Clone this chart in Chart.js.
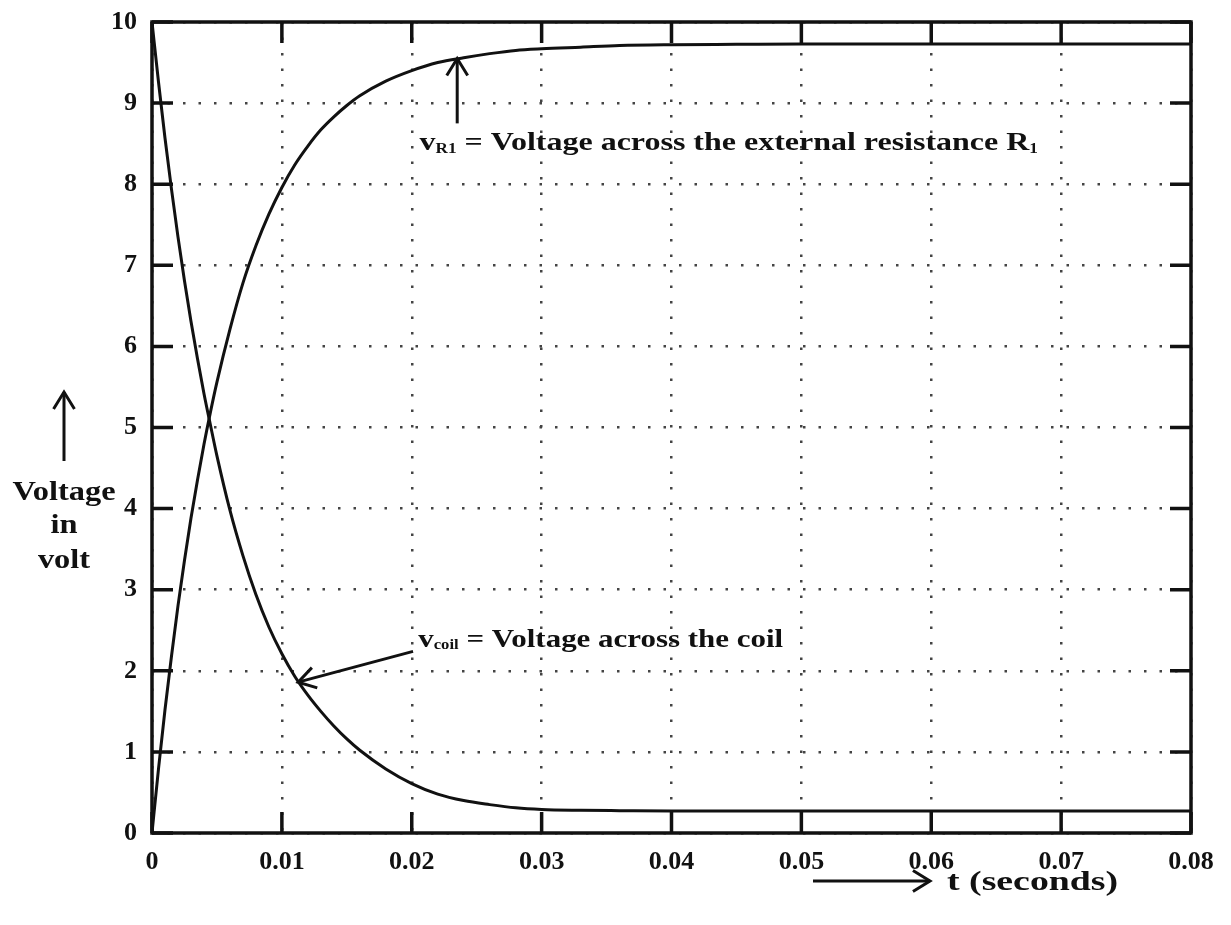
<!DOCTYPE html>
<html>
<head>
<meta charset="utf-8">
<script src="https://cdn.jsdelivr.net/npm/chart.js@4/dist/chart.umd.min.js"></script>
<style>
  html, body { margin: 0; padding: 0; background: #ffffff; }
  #wrap { width: 1231px; height: 925px; }
</style>
</head>
<body>
<div id="wrap"><canvas id="c" width="1231" height="925"></canvas></div>
<script>
// ---- data ----
const tValues = [0, 0.0005, 0.001, 0.0015, 0.002, 0.0025, 0.003, 0.0035, 0.004, 0.0045, 0.005,
  0.006, 0.007, 0.008, 0.009, 0.010, 0.011, 0.012, 0.013, 0.014, 0.015, 0.016, 0.018, 0.020,
  0.022, 0.024, 0.026, 0.028, 0.030, 0.033, 0.036, 0.040, 0.045, 0.050, 0.060, 0.070, 0.080];
const vR1 = [0, 0.79, 1.52, 2.18, 2.80, 3.36, 3.88, 4.35, 4.79, 5.19, 5.56,
  6.21, 6.78, 7.24, 7.63, 7.96, 8.24, 8.47, 8.67, 8.83, 8.97, 9.09, 9.27, 9.40,
  9.50, 9.56, 9.61, 9.65, 9.67, 9.69, 9.71, 9.72, 9.725, 9.73, 9.73, 9.73, 9.73];
const vCoil = [10, 9.26, 8.57, 7.94, 7.35, 6.81, 6.31, 5.85, 5.42, 5.03, 4.65,
  3.98, 3.42, 2.94, 2.54, 2.21, 1.93, 1.70, 1.50, 1.32, 1.16, 1.02, 0.79, 0.61,
  0.48, 0.40, 0.35, 0.31, 0.29, 0.28, 0.275, 0.27, 0.27, 0.27, 0.27, 0.27, 0.27];
const xTickValues = [0, 0.01, 0.02, 0.03, 0.04, 0.05, 0.06, 0.07, 0.08];
const xTickLabels = ['0', '0.01', '0.02', '0.03', '0.04', '0.05', '0.06', '0.07', '0.08'];
const yTickValues = [0, 1, 2, 3, 4, 5, 6, 7, 8, 9, 10];
const yTickLabels = ['0', '1', '2', '3', '4', '5', '6', '7', '8', '9', '10'];

// annotation anchors in data units
const vR1Note = { arrowX: 0.0235, arrowFrom: 8.75, arrowTo: 9.55, textX: 0.0206, textY: 8.5 };
const vCoilNote = { fromX: 0.0201, fromY: 2.24, toX: 0.01125, toY: 1.86, textX: 0.0205, textY: 2.38 };

const SERIF = '"Liberation Serif", "DejaVu Serif", serif';
const TICK_FONT = { family: SERIF, size: 26, weight: 'bold' };

function toPts(xs, ys) { return xs.map((x, i) => ({ x: x, y: ys[i] })); }

function arrowHead(ctx, x1, y1, x2, y2, len, spread) {
  const a = Math.atan2(y2 - y1, x2 - x1);
  ctx.beginPath();
  ctx.moveTo(x2 - len * Math.cos(a - spread), y2 - len * Math.sin(a - spread));
  ctx.lineTo(x2, y2);
  ctx.lineTo(x2 - len * Math.cos(a + spread), y2 - len * Math.sin(a + spread));
  ctx.stroke();
}
function arrow(ctx, x1, y1, x2, y2) {
  ctx.beginPath(); ctx.moveTo(x1, y1); ctx.lineTo(x2, y2); ctx.stroke();
  arrowHead(ctx, x1, y1, x2, y2, 20, 0.55);
}
// text made of segments [text, isSub], horizontally stretched by sx
function richText(ctx, x, y, parts, size, sx) {
  ctx.save();
  ctx.translate(x, y);
  ctx.scale(sx, 1);
  let cx = 0;
  parts.forEach(p => {
    const s = p[1] ? Math.round(size * 0.55) : size;
    ctx.font = 'bold ' + s + 'px ' + SERIF;
    ctx.fillText(p[0], cx, p[1] ? size * 0.22 : 0);
    cx += ctx.measureText(p[0]).width;
  });
  ctx.restore();
}
function stretchedText(ctx, text, x, y, size, sx, align) {
  ctx.save();
  ctx.translate(x, y);
  ctx.scale(sx, 1);
  ctx.font = 'bold ' + size + 'px ' + SERIF;
  ctx.textAlign = align;
  ctx.fillText(text, 0, 0);
  ctx.restore();
}

const framePlugin = {
  id: 'frame',
  afterDatasetsDraw(chart) {
    const ctx = chart.ctx, a = chart.chartArea;
    const xs = chart.scales.x, ys = chart.scales.y;
    ctx.save();
    ctx.strokeStyle = '#111';
    ctx.lineWidth = 3.5;
    ctx.lineCap = 'butt';
    // inward tick marks
    xTickValues.forEach(v => {
      const px = xs.getPixelForValue(v);
      ctx.beginPath();
      ctx.moveTo(px, a.bottom); ctx.lineTo(px, a.bottom - 21);
      ctx.moveTo(px, a.top); ctx.lineTo(px, a.top + 21);
      ctx.stroke();
    });
    yTickValues.forEach(v => {
      const py = ys.getPixelForValue(v);
      ctx.beginPath();
      ctx.moveTo(a.left, py); ctx.lineTo(a.left + 21, py);
      ctx.moveTo(a.right, py); ctx.lineTo(a.right - 21, py);
      ctx.stroke();
    });
    ctx.strokeRect(a.left, a.top, a.right - a.left, a.bottom - a.top);

    // curve annotations
    ctx.fillStyle = '#111';
    ctx.lineWidth = 3;
    ctx.lineJoin = 'miter';
    ctx.textBaseline = 'middle';
    ctx.textAlign = 'left';
    const ax = xs.getPixelForValue(vR1Note.arrowX);
    arrow(ctx, ax, ys.getPixelForValue(vR1Note.arrowFrom), ax, ys.getPixelForValue(vR1Note.arrowTo));
    richText(ctx, xs.getPixelForValue(vR1Note.textX), ys.getPixelForValue(vR1Note.textY),
      [['v', false], ['R1', true], [' = Voltage across the external resistance R', false], ['1', true]], 26, 1.23);
    arrow(ctx, xs.getPixelForValue(vCoilNote.fromX), ys.getPixelForValue(vCoilNote.fromY),
      xs.getPixelForValue(vCoilNote.toX), ys.getPixelForValue(vCoilNote.toY));
    richText(ctx, xs.getPixelForValue(vCoilNote.textX), ys.getPixelForValue(vCoilNote.textY),
      [['v', false], ['coil', true], [' = Voltage across the coil', false]], 26, 1.19);

    // axis titles
    const tx = 64;
    arrow(ctx, tx, 461, tx, 392);
    stretchedText(ctx, 'Voltage', tx, 493, 27, 1.2, 'center');
    stretchedText(ctx, 'in', tx, 526, 27, 1.2, 'center');
    stretchedText(ctx, 'volt', tx, 561, 27, 1.2, 'center');

    const ay = 881;
    arrow(ctx, 813, ay, 930, ay);
    stretchedText(ctx, 't (seconds)', 947, ay + 2, 27, 1.4, 'left');
    ctx.restore();
  }
};

new Chart(document.getElementById('c'), {
  type: 'line',
  data: {
    datasets: [
      { label: 'vR1', data: toPts(tValues, vR1), borderColor: '#111', borderWidth: 3,
        pointRadius: 0, cubicInterpolationMode: 'monotone', fill: false },
      { label: 'vcoil', data: toPts(tValues, vCoil), borderColor: '#111', borderWidth: 3,
        pointRadius: 0, cubicInterpolationMode: 'monotone', fill: false }
    ]
  },
  options: {
    responsive: false,
    animation: false,
    devicePixelRatio: 1,
    layout: { padding: { left: 0, top: 22, right: 40, bottom: 0 } },
    plugins: { legend: { display: false }, tooltip: { enabled: false } },
    scales: {
      x: {
        type: 'linear', min: 0, max: 0.08,
        afterBuildTicks(s) { s.ticks = xTickValues.map(v => ({ value: v })); },
        afterFit(s) { s.height = 92; s.paddingLeft = 0; s.paddingRight = 0; },
        ticks: {
          font: TICK_FONT, color: '#111', padding: 14, maxRotation: 0, autoSkip: false,
          callback: (v, i) => xTickLabels[i]
        },
        grid: { color: '#444', lineWidth: 2.5, drawTicks: false, tickLength: 0 },
        border: { display: false, dash: [2.5, 13] }
      },
      y: {
        type: 'linear', min: 0, max: 10,
        afterBuildTicks(s) { s.ticks = yTickValues.map(v => ({ value: v })); },
        afterFit(s) { s.width = 152; s.paddingTop = 0; s.paddingBottom = 0; },
        ticks: {
          font: TICK_FONT, color: '#111', padding: 15, autoSkip: false,
          callback: (v, i) => yTickLabels[i]
        },
        grid: { color: '#444', lineWidth: 2.5, drawTicks: false, tickLength: 0 },
        border: { display: false, dash: [2.5, 13] }
      }
    }
  },
  plugins: [framePlugin]
});
</script>
</body>
</html>
